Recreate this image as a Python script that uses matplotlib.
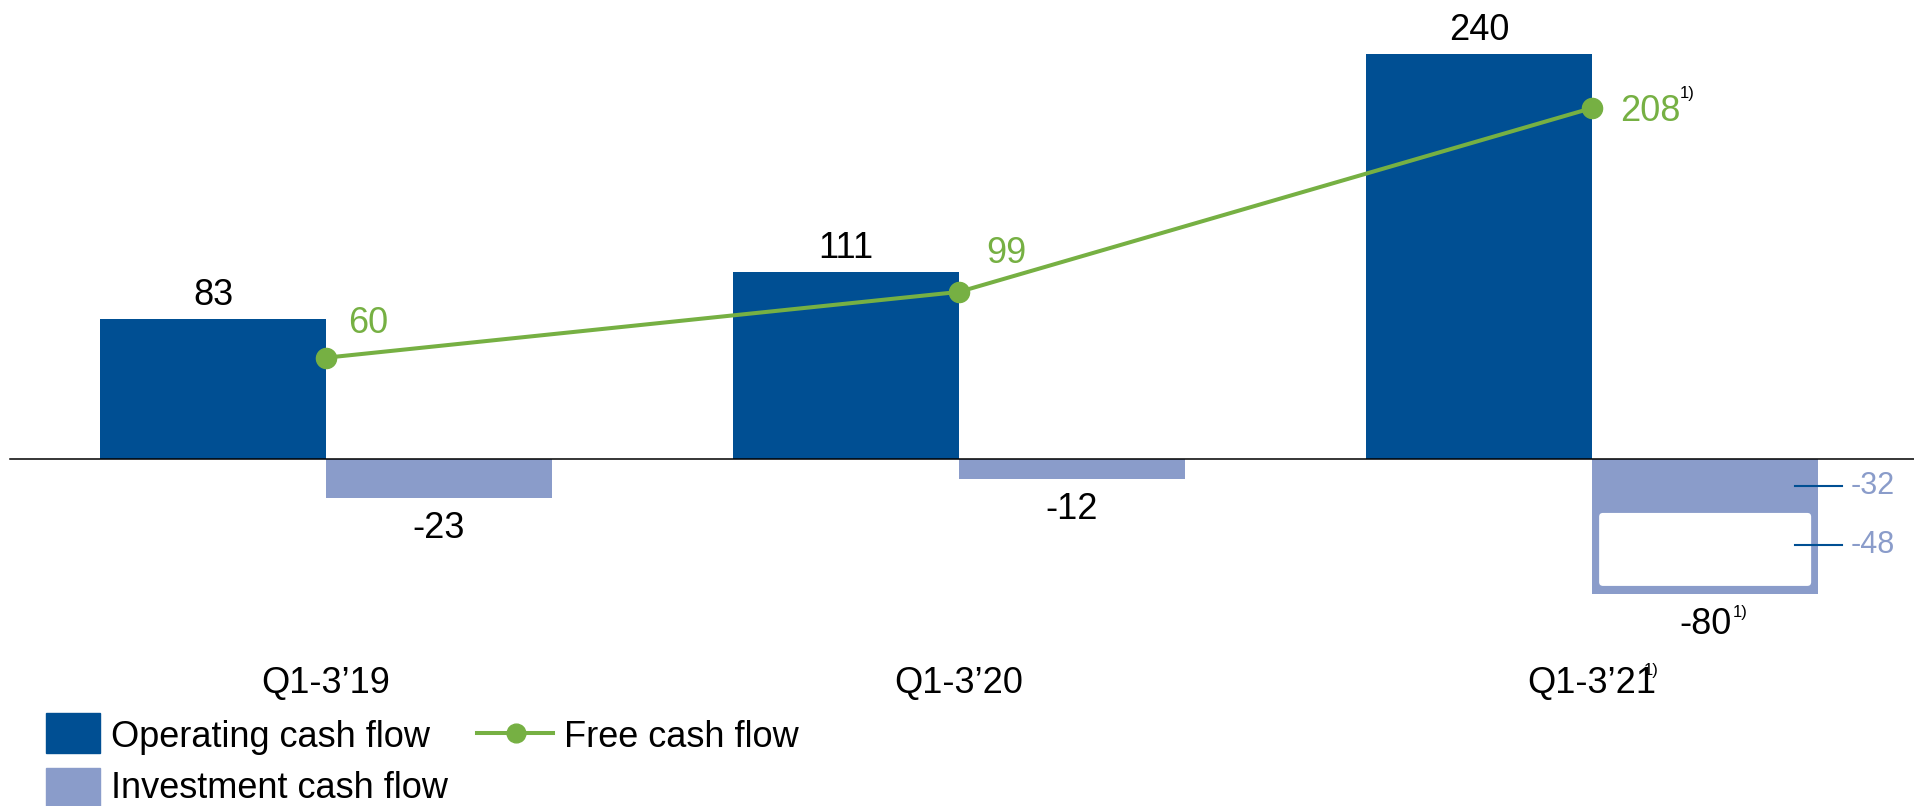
import numpy as np
import matplotlib.pyplot as plt
from matplotlib.patches import FancyBboxPatch, Rectangle
from matplotlib.lines import Line2D

plt.rcParams['font.family'] = ['Liberation Sans', 'DejaVu Sans']

periods = ["Q1-3\u201919", "Q1-3\u201920", "Q1-3\u201921"]
operating = [83, 111, 240]
investment = [-23, -12, -80]
free_cf = [60, 99, 208]
# breakdown of the Q1-3'21 investment cash flow
split_vals = [-32, -48]
footnote = "1)"

DARK = "#004F93"
LIGHT = "#8A9CCA"
GREEN = "#76B043"

W, H = 1915, 806
fig = plt.figure(figsize=(W / 100, H / 100), dpi=100)
ax = fig.add_axes([0, 0, 1, 1])
ax.set_xlim(-0.515, 2.510)
ax.set_ylim(-205.7, 272)
ax.axis('off')

x = np.arange(len(periods))
w = 0.357
ax.bar(x - w / 2, operating, w, color=DARK, zorder=1)
ax.bar(x + w / 2, investment, w, color=LIGHT, zorder=1)
ax.axhline(0, xmin=10 / W, color='black', lw=1.1, zorder=3)

for xi, v in zip(x, operating):
    ax.annotate(str(v), (xi - w / 2, v), xytext=(0, 14), textcoords='offset pixels',
                ha='center', va='baseline', fontsize=26)
for xi, v in zip(x, investment):
    ax.annotate(str(v), (xi + w / 2, v), xytext=(0, -40), textcoords='offset pixels',
                ha='center', va='baseline', fontsize=26)

# free cash flow line
ax.plot(x, free_cf, color=GREEN, lw=2.9, marker='o', ms=14.5, zorder=5)
fcf_offsets = [(22, 25), (27, 29), (28, -13)]
for xi, v, off in zip(x, free_cf, fcf_offsets):
    ax.annotate(str(v), (xi, v), xytext=off, textcoords='offset pixels',
                ha='left', va='baseline', color=GREEN, fontsize=26)

for xi, lab in zip(x, periods):
    ax.text(xi, 0.1402, lab, transform=ax.get_xaxis_transform(),
            ha='center', va='baseline', fontsize=26)

# white inset for the second part of the last investment bar
ix, iy = 7 / 633, 8 / 1.687
last = x[-1]
box = FancyBboxPatch((last + ix, investment[-1] + iy), w - 2 * ix,
                     split_vals[0] - investment[-1] - iy,
                     boxstyle="round,pad=0,rounding_size=0.006", mutation_aspect=375,
                     fc='white', ec='none', zorder=2)
ax.add_patch(box)

split_y = [split_vals[0] / 2, split_vals[0] + split_vals[1] * 0.4]
for y, v in zip(split_y, split_vals):
    ax.plot([last + w - 0.036, last + w + 0.038], [y, y], color=DARK, lw=1.5, zorder=4)
    ax.annotate(str(v), (last + w + 0.038, y), xytext=(8, -8), textcoords='offset pixels',
                ha='left', va='baseline', color=LIGHT, fontsize=22)

# footnote markers
ax.annotate(footnote, (last, free_cf[-1]), xytext=(88, 10), textcoords='offset pixels',
            ha='left', va='baseline', fontsize=12)
ax.annotate(footnote, (last + w / 2, investment[-1]), xytext=(28, -23), textcoords='offset pixels',
            ha='left', va='baseline', fontsize=12)
ax.annotate(footnote, (last, 0.1402), xycoords=('data', 'axes fraction'), xytext=(52, 18),
            textcoords='offset pixels', ha='left', va='baseline', fontsize=12)

# legend
def fx(px):
    return px / W

def fy(py):
    return 1 - py / H

fig.add_artist(Rectangle((fx(46), fy(753)), 54 / W, 40 / H, color=DARK, transform=fig.transFigure))
fig.add_artist(Rectangle((fx(46), fy(808)), 54 / W, 40 / H, color=LIGHT, transform=fig.transFigure))
fig.add_artist(Line2D([fx(477), fx(553)], [fy(733), fy(733)], color=GREEN, lw=2.9,
                      transform=fig.transFigure))
fig.add_artist(Line2D([fx(516)], [fy(733)], color=GREEN, marker='o', ms=13.5,
                      transform=fig.transFigure))
fig.text(fx(111), fy(747), "Operating cash flow", fontsize=26)
fig.text(fx(564), fy(747), "Free cash flow", fontsize=26)
fig.text(fx(111), fy(798), "Investment cash flow", fontsize=26)

fig.savefig("out.png", dpi=100)
